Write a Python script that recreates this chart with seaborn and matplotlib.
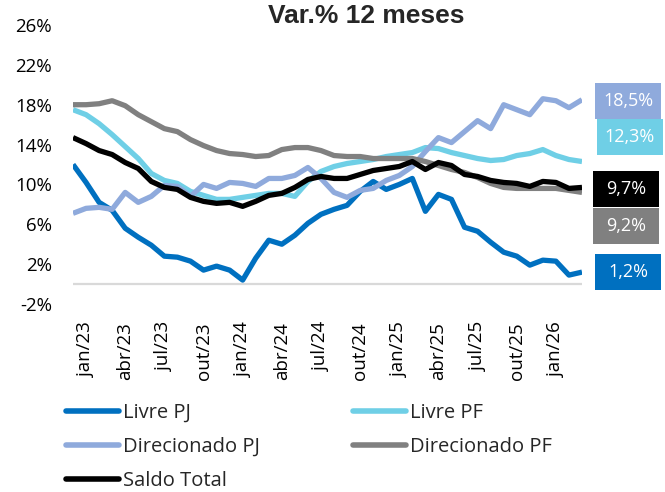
import matplotlib
matplotlib.use("Agg")
import matplotlib.pyplot as plt
from matplotlib.patches import Rectangle
import seaborn as sns
import pandas as pd

# ---------------- data ----------------
meses = ['dez/22', 'jan/23', 'fev/23', 'mar/23', 'abr/23', 'mai/23', 'jun/23', 'jul/23',
         'ago/23', 'set/23', 'out/23', 'nov/23', 'dez/23', 'jan/24', 'fev/24', 'mar/24',
         'abr/24', 'mai/24', 'jun/24', 'jul/24', 'ago/24', 'set/24', 'out/24', 'nov/24',
         'dez/24', 'jan/25', 'fev/25', 'mar/25', 'abr/25', 'mai/25', 'jun/25', 'jul/25',
         'ago/25', 'set/25', 'out/25', 'nov/25', 'dez/25', 'jan/26', 'fev/26', 'mar/26']

livre_pj = [12.0, 10.2, 8.2, 7.4, 5.6, 4.7, 3.9, 2.8, 2.7, 2.3,
            1.4, 1.8, 1.4, 0.4, 2.6, 4.4, 4.0, 4.9, 6.1, 7.0,
            7.5, 7.9, 9.3, 10.3, 9.5, 10.0, 10.6, 7.3, 9.0, 8.5,
            5.7, 5.3, 4.2, 3.2, 2.8, 1.9, 2.4, 2.3, 0.9, 1.2]

livre_pf = [17.5, 17.0, 16.1, 15.0, 13.8, 12.6, 11.1, 10.4, 10.1, 9.3,
            8.9, 8.5, 8.5, 8.7, 8.9, 9.1, 9.1, 8.8, 10.3, 11.3,
            11.8, 12.1, 12.3, 12.5, 12.8, 13.0, 13.2, 13.7, 13.6, 13.2,
            12.9, 12.6, 12.4, 12.5, 12.9, 13.1, 13.5, 12.9, 12.5, 12.3]

direc_pj = [7.1, 7.6, 7.7, 7.5, 9.2, 8.2, 8.8, 9.9, 9.8, 8.8,
            10.0, 9.6, 10.2, 10.1, 9.8, 10.6, 10.6, 10.9, 11.7, 10.6,
            9.2, 8.7, 9.4, 9.6, 10.4, 10.9, 11.8, 13.3, 14.7, 14.2,
            15.3, 16.4, 15.6, 18.0, 17.5, 17.0, 18.6, 18.4, 17.7, 18.5]

direc_pf = [18.0, 18.0, 18.1, 18.4, 17.9, 17.0, 16.3, 15.6, 15.3, 14.5,
            13.9, 13.4, 13.1, 13.0, 12.8, 12.9, 13.5, 13.7, 13.7, 13.4,
            12.9, 12.8, 12.8, 12.6, 12.6, 12.6, 12.6, 12.3, 11.9, 11.5,
            11.2, 10.7, 10.1, 9.7, 9.6, 9.6, 9.6, 9.6, 9.4, 9.2]

saldo_total = [14.7, 14.1, 13.4, 13.0, 12.2, 11.6, 10.3, 9.7, 9.5, 8.7,
               8.3, 8.1, 8.2, 7.8, 8.3, 8.9, 9.1, 9.7, 10.5, 10.8,
               10.6, 10.6, 11.0, 11.4, 11.6, 11.8, 12.3, 11.5, 12.2, 11.9,
               11.0, 10.8, 10.4, 10.2, 10.1, 9.8, 10.3, 10.2, 9.6, 9.7]

series_names = ['Livre PJ', 'Livre PF', 'Direcionado PJ', 'Direcionado PF', 'Saldo Total']
series_values = [livre_pj, livre_pf, direc_pj, direc_pf, saldo_total]
colors = ['#0070C0', '#6FCFE6', '#8FAADC', '#808080', '#000000']

tick_labels = ['jan/23', 'abr/23', 'jul/23', 'out/23', 'jan/24', 'abr/24', 'jul/24',
               'out/24', 'jan/25', 'abr/25', 'jul/25', 'out/25', 'jan/26']
y_ticks = [-2, 2, 6, 10, 14, 18, 22, 26]

# ---------------- figure ----------------
sns.set_theme(style='white')
plt.rcParams['font.family'] = ['Open Sans', 'DejaVu Sans']

W, H = 665, 492
fig = plt.figure(figsize=(W / 100, H / 100), dpi=100)
fig.patch.set_facecolor('white')
ax = fig.add_axes([73 / W, 1 - 304 / H, (582 - 73) / W, (304 - 25) / H])

rows = []
for name, vals in zip(series_names, series_values):
    for i, v in enumerate(vals):
        rows.append({'idx': i, 'mes': meses[i], 'serie': name, 'valor': v})
df = pd.DataFrame(rows)

ax.axhline(0, color='#D9D9D9', lw=1.6, zorder=0)
sns.lineplot(data=df, x='idx', y='valor', hue='serie', hue_order=series_names,
             palette=dict(zip(series_names, colors)), linewidth=3.8, ax=ax,
             sort=False, legend=True)
for ln in ax.lines:
    ln.set_solid_capstyle('butt')
    ln.set_solid_joinstyle('round')

ax.set_xlim(0, len(meses) - 1)
ax.set_ylim(-2, 26)
ax.set_yticks(y_ticks)
ax.set_yticklabels([f'{t}%' for t in y_ticks])
ax.set_xticks([meses.index(t) for t in tick_labels])
ax.set_xticklabels(tick_labels, rotation=90, va='top', ha='center')
ax.tick_params(axis='both', length=0, labelsize=13.5, colors='black')
ax.tick_params(axis='y', pad=15)
ax.tick_params(axis='x', pad=13)
ax.set_xlabel('')
ax.set_ylabel('')
for s in ax.spines.values():
    s.set_visible(False)
ax.grid(False)

# legend
handles, labels = ax.get_legend_handles_labels()
ax.get_legend().remove()
hmap = dict(zip(labels, handles))
order = ['Livre PJ', 'Direcionado PJ', 'Saldo Total', 'Livre PF', 'Direcionado PF']
leg = fig.legend([hmap[k] for k in order], order, ncol=2, loc='upper left',
                 bbox_to_anchor=(66 / W, 1 - 403 / H), frameon=False, fontsize=14.5,
                 handlelength=2.65, handletextpad=0.2, columnspacing=4.6,
                 labelspacing=0.7, borderpad=0, borderaxespad=0)
for lh in leg.get_lines():
    lh.set_linewidth(4)
    lh.set_solid_capstyle('round')

# title
fig.text(366 / W, 1 - 16 / H, 'Var.% 12 meses', ha='center', va='center',
         fontsize=19, fontweight='bold', family=['Liberation Sans', 'DejaVu Sans'])

# end labels: fixed-size boxes placed relative to each series' last point
offsets_px = {'Livre PJ': (46, 0), 'Livre PF': (48, 25), 'Direcionado PJ': (46, -1),
              'Direcionado PF': (44, -34), 'Saldo Total': (44, -2)}
box_w, box_h = 66, 36
for name, vals, c in zip(series_names, series_values, colors):
    txt = f'{vals[-1]:.1f}%'.replace('.', ',')
    px, py = ax.transData.transform((len(vals) - 1, vals[-1]))
    dx, dy = offsets_px[name]
    cx, cy = px + dx, py + dy
    fig.add_artist(Rectangle((cx - box_w / 2, cy - box_h / 2), box_w, box_h,
                             transform=None, facecolor=c, edgecolor='none'))
    fig.add_artist(plt.Text(cx, cy, txt, transform=None, ha='center', va='center',
                            color='white', fontsize=13))

fig.savefig('out.png', dpi=100, facecolor='white')
